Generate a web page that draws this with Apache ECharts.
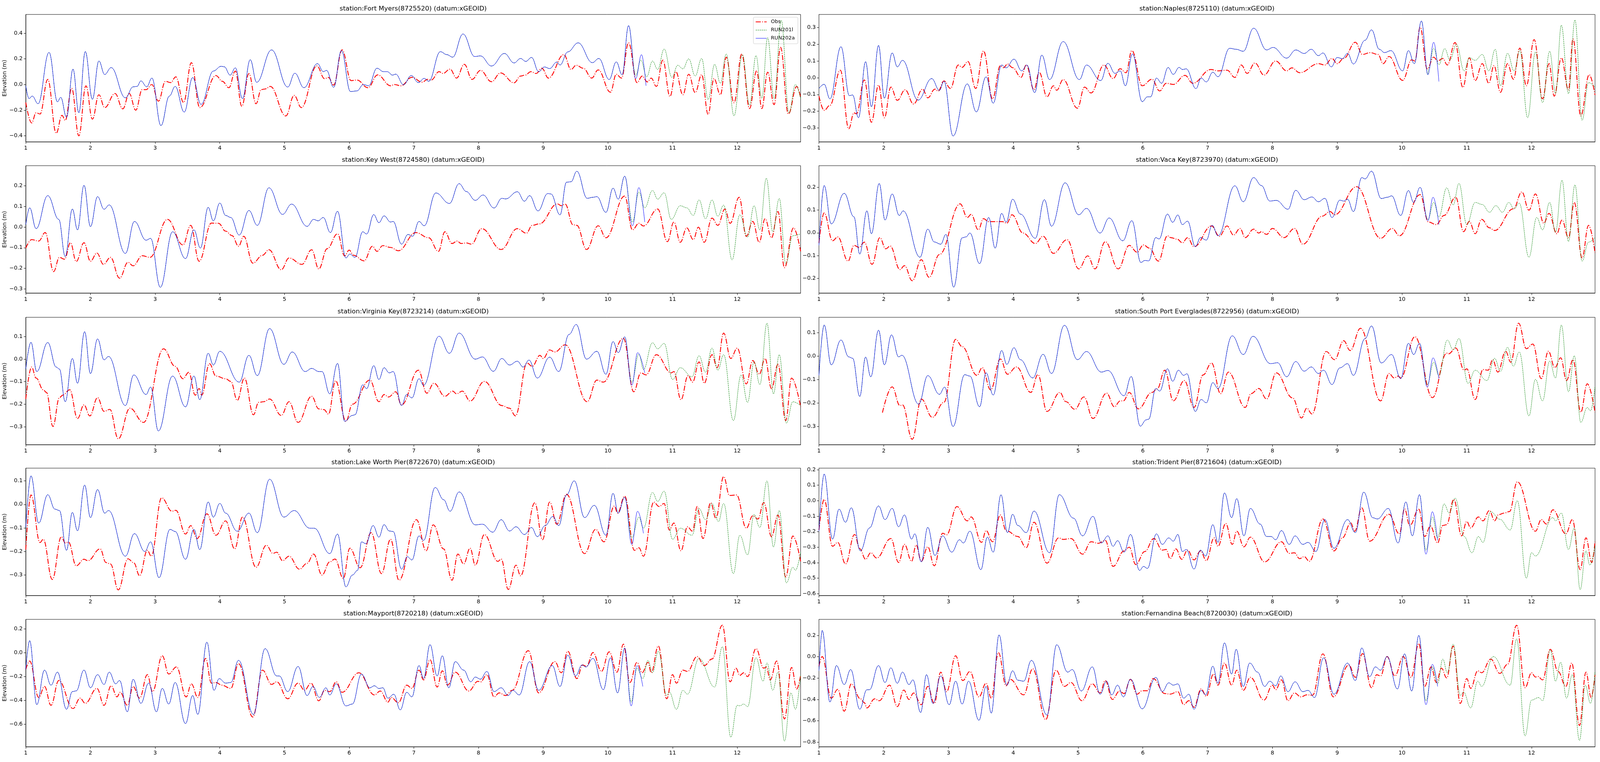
<!DOCTYPE html>
<html>
<head>
<meta charset="utf-8">
<script src="https://cdn.jsdelivr.net/npm/echarts@6/dist/echarts.min.js"></script>
<style>
  html, body { margin: 0; padding: 0; background: #fff; overflow: hidden; }
  #chart { width: 5150px; height: 1950px; }
</style>
</head>
<body>
<div id="chart"></div>
<script>

const stationTitles = [
  "station:Fort Myers(8725520) (datum:xGEOID)",
  "station:Naples(8725110) (datum:xGEOID)",
  "station:Key West(8724580) (datum:xGEOID)",
  "station:Vaca Key(8723970) (datum:xGEOID)",
  "station:Virginia Key(8723214) (datum:xGEOID)",
  "station:South Port Everglades(8722956) (datum:xGEOID)",
  "station:Lake Worth Pier(8722670) (datum:xGEOID)",
  "station:Trident Pier(8721604) (datum:xGEOID)",
  "station:Mayport(8720218) (datum:xGEOID)",
  "station:Fernandina Beach(8720030) (datum:xGEOID)"
];

const legendNames = ["Obs", "RUN201l", "RUN202a"];

const xTicks = [1, 2, 3, 4, 5, 6, 7, 8, 9, 10, 11, 12];

const yRanges = [
  [-0.447, 0.546], [-0.383, 0.378], [-0.32, 0.297], [-0.264, 0.294], [-0.38, 0.186],
  [-0.378, 0.166], [-0.387, 0.154], [-0.612, 0.21], [-0.788, 0.279], [-0.843, 0.35]
];

const yTicks = [
  [-0.4, -0.2, 0, 0.2, 0.4],
  [-0.3, -0.2, -0.1, 0, 0.1, 0.2, 0.3],
  [-0.3, -0.2, -0.1, 0, 0.1, 0.2],
  [-0.2, -0.1, 0, 0.1, 0.2],
  [-0.3, -0.2, -0.1, 0, 0.1],
  [-0.3, -0.2, -0.1, 0, 0.1],
  [-0.3, -0.2, -0.1, 0, 0.1],
  [-0.6, -0.5, -0.4, -0.3, -0.2, -0.1, 0, 0.1, 0.2],
  [-0.6, -0.4, -0.2, 0, 0.2],
  [-0.8, -0.6, -0.4, -0.2, 0, 0.2]
];

// ---- Fort Myers
const fortMyersObs = [[1.00,-0.14],[1.09,-0.30],[1.16,-0.22],[1.22,-0.23],[1.34,0.04],[1.47,-0.38],[1.56,-0.24],[1.61,-0.28],[1.71,-0.03],[1.82,-0.40],[1.93,-0.01],[2.03,-0.27],[2.13,-0.08],[2.22,-0.18],[2.38,-0.07],[2.50,-0.19],[2.60,-0.07],[2.70,-0.20],[2.80,-0.04],[2.86,-0.04],[2.95,0.00],[3.05,-0.13],[3.16,0.025],[3.24,0.015],[3.32,0.06],[3.44,-0.14],[3.56,0.17],[3.69,-0.18],[3.94,0.07],[4.04,0.025],[4.14,-0.025],[4.24,0.105],[4.34,-0.17],[4.45,0.085],[4.56,-0.15],[4.64,-0.04],[4.70,-0.035],[4.78,-0.015],[5.02,-0.245],[5.15,-0.085],[5.26,-0.18],[5.50,0.145],[5.62,0.045],[5.68,0.055],[5.76,-0.005],[5.89,0.27],[6.03,0.03],[6.12,0.035],[6.29,-0.025],[6.44,0.075],[6.64,-0.01],[6.70,0.0],[6.80,-0.01],[6.97,0.056],[7.13,0.018],[7.21,0.04],[7.27,0.035],[7.39,0.10],[7.45,0.086],[7.56,0.12],[7.66,0.05],[7.78,0.157],[7.90,0.04],[8.03,0.11],[8.20,0.022],[8.34,0.09],[8.55,0.013],[8.65,0.066],[8.72,0.073],[8.81,0.10],[8.89,0.086],[8.98,0.127],[9.08,0.05],[9.32,0.233],[9.43,0.117],[9.51,0.15],[9.62,0.127],[9.75,0.05],[9.85,0.114],[10.04,-0.06],[10.13,0.08],[10.21,0.05],[10.32,0.325],[10.45,0.015],[10.53,0.066],[10.61,0.02],[10.67,0.05],[10.75,-0.015],[10.85,0.19],[10.96,-0.093],[11.05,0.10],[11.16,-0.08],[11.25,0.08],[11.35,-0.063],[11.45,0.076],[11.55,-0.233],[11.64,0.046],[11.74,-0.08],[11.83,0.213],[11.95,-0.142],[12.07,0.238],[12.19,-0.188],[12.30,0.107],[12.38,-0.188],[12.47,0.096],[12.57,-0.157],[12.67,0.29],[12.79,-0.23],[12.92,-0.015],[12.98,-0.10]];
const fortMyersRun202a = [[1.00,-0.01],[1.05,-0.11],[1.10,-0.09],[1.19,-0.15],[1.36,0.25],[1.49,-0.135],[1.54,-0.10],[1.63,-0.255],[1.73,0.12],[1.82,-0.22],[1.92,0.257],[2.03,-0.115],[2.13,0.183],[2.22,0.078],[2.32,0.132],[2.54,-0.104],[2.66,-0.018],[2.72,-0.015],[2.78,0.028],[2.87,-0.018],[2.95,0.05],[3.09,-0.32],[3.22,-0.09],[3.31,-0.015],[3.45,-0.215],[3.58,0.054],[3.71,-0.155],[3.90,0.105],[4.02,0.142],[4.07,0.138],[4.16,0.073],[4.24,0.13],[4.35,-0.11],[4.47,0.193],[4.57,0.017],[4.80,0.27],[5.05,-0.02],[5.16,0.088],[5.30,-0.025],[5.51,0.163],[5.60,0.10],[5.65,0.11],[5.76,-0.022],[5.88,0.264],[6.02,-0.055],[6.12,-0.05],[6.22,0.0],[6.30,-0.01],[6.43,0.127],[6.53,0.10],[6.59,0.10],[6.67,0.073],[6.72,0.081],[6.84,-0.002],[6.96,0.07],[7.07,0.015],[7.16,0.048],[7.23,0.025],[7.41,0.256],[7.51,0.233],[7.60,0.213],[7.76,0.394],[7.94,0.218],[8.03,0.223],[8.20,0.144],[8.40,0.242],[8.55,0.168],[8.65,0.203],[8.73,0.18],[8.82,0.211],[8.93,0.10],[9.02,0.137],[9.10,0.124],[9.21,0.175],[9.26,0.152],[9.38,0.254],[9.54,0.325],[9.76,0.17],[9.86,0.203],[10.02,0.039],[10.13,0.176],[10.22,0.076],[10.32,0.459],[10.43,0.046],[10.52,0.233],[10.59,-0.01]];
const fortMyersRun201lTail = [[10.43,0.071],[10.51,0.19],[10.60,0.06],[10.69,0.183],[10.77,0.117],[10.87,0.276],[10.99,0.056],[11.08,0.15],[11.16,0.122],[11.25,0.20],[11.35,0.066],[11.45,0.203],[11.55,-0.117],[11.65,0.157],[11.74,0.01],[11.83,0.238],[11.95,-0.244],[12.08,0.233],[12.19,-0.162],[12.29,0.225],[12.38,-0.107],[12.47,0.365],[12.57,-0.112],[12.68,0.50],[12.80,-0.223],[12.90,0.0],[12.98,-0.11]];

// ---- Naples
const naplesObs = [[1.00,-0.11],[1.08,-0.195],[1.17,-0.165],[1.33,0.045],[1.46,-0.305],[1.54,-0.21],[1.58,-0.215],[1.70,-0.013],[1.81,-0.266],[1.92,-0.044],[2.01,-0.239],[2.11,-0.056],[2.21,-0.135],[2.33,-0.072],[2.46,-0.157],[2.60,-0.068],[2.68,-0.12],[2.79,-0.068],[2.84,-0.08],[2.93,-0.019],[3.03,-0.064],[3.15,0.076],[3.21,0.062],[3.30,0.097],[3.42,-0.064],[3.54,0.16],[3.68,-0.126],[3.80,0.072],[3.85,0.06],[3.91,0.082],[3.99,0.06],[4.12,0.002],[4.20,0.076],[4.32,-0.072],[4.40,0.033],[4.52,-0.114],[4.62,-0.048],[4.67,-0.075],[4.77,-0.011],[4.99,-0.182],[5.10,-0.056],[5.20,-0.091],[5.40,0.076],[5.54,-0.005],[5.65,0.054],[5.74,0.03],[5.83,0.162],[5.99,-0.048],[6.14,-0.009],[6.26,-0.079],[6.36,-0.033],[6.47,-0.04],[6.65,0.014],[6.77,-0.033],[7.05,0.049],[7.16,0.041],[7.30,0.045],[7.42,0.002],[7.52,0.076],[7.61,0.026],[7.73,0.088],[7.87,0.016],[8.05,0.10],[8.22,0.041],[8.30,0.059],[8.42,0.03],[8.71,0.084],[8.81,0.076],[8.92,0.115],[9.00,0.084],[9.10,0.115],[9.28,0.212],[9.39,0.139],[9.51,0.15],[9.63,0.139],[9.71,0.084],[9.80,0.127],[10.01,-0.016],[10.15,0.107],[10.20,0.10],[10.28,0.302],[10.39,0.053],[10.49,0.123],[10.55,0.10],[10.63,0.115],[10.70,0.076],[10.82,0.21],[10.94,-0.058],[11.04,0.119],[11.13,-0.017],[11.24,0.084],[11.34,-0.033],[11.42,0.072],[11.52,-0.087],[11.63,0.084],[11.72,-0.009],[11.82,0.177],[11.92,-0.048],[12.04,0.228],[12.17,-0.126],[12.27,0.084],[12.35,-0.11],[12.46,0.119],[12.57,-0.072],[12.64,0.232],[12.76,-0.227],[12.89,0.018],[12.98,-0.103]];
const naplesRun202a = [[1.00,-0.064],[1.08,-0.039],[1.17,-0.126],[1.34,0.185],[1.47,-0.107],[1.52,-0.103],[1.61,-0.239],[1.72,0.096],[1.81,-0.173],[1.92,0.193],[2.01,-0.122],[2.13,0.148],[2.21,0.065],[2.29,0.104],[2.53,-0.134],[2.74,-0.005],[2.86,-0.075],[2.93,-0.021],[3.07,-0.348],[3.29,-0.037],[3.43,-0.204],[3.58,0.005],[3.69,-0.152],[3.82,0.076],[3.89,0.059],[4.01,0.111],[4.13,0.041],[4.21,0.076],[4.33,-0.089],[4.44,0.135],[4.56,-0.011],[4.77,0.216],[5.02,-0.011],[5.13,0.076],[5.35,-0.017],[5.46,0.086],[5.57,0.026],[5.65,0.041],[5.73,-0.048],[5.84,0.142],[5.99,-0.143],[6.07,-0.114],[6.12,-0.114],[6.21,-0.002],[6.29,-0.033],[6.39,0.061],[6.47,0.02],[6.56,0.062],[6.61,0.049],[6.67,0.053],[6.82,-0.065],[6.90,-0.002],[6.98,-0.025],[7.08,0.033],[7.16,0.006],[7.34,0.176],[7.44,0.17],[7.55,0.158],[7.71,0.296],[7.91,0.166],[8.01,0.181],[8.22,0.117],[8.36,0.166],[8.49,0.145],[8.60,0.17],[8.71,0.132],[8.78,0.148],[8.91,0.065],[9.00,0.121],[9.08,0.114],[9.16,0.146],[9.25,0.082],[9.43,0.224],[9.53,0.286],[9.65,0.17],[9.73,0.15],[9.83,0.162],[10.01,0.041],[10.10,0.162],[10.19,0.084],[10.30,0.339],[10.40,0.018],[10.49,0.212],[10.57,-0.023]];
const naplesRun201lTail = [[10.41,0.053],[10.49,0.176],[10.57,0.078],[10.66,0.174],[10.74,0.107],[10.84,0.20],[10.96,0.041],[11.04,0.12],[11.13,0.104],[11.24,0.139],[11.34,0.041],[11.44,0.17],[11.52,-0.048],[11.63,0.146],[11.73,0.041],[11.82,0.162],[11.94,-0.239],[12.06,0.154],[12.17,-0.149],[12.28,0.158],[12.37,-0.095],[12.46,0.314],[12.57,-0.095],[12.67,0.345],[12.78,-0.254],[12.88,-0.029],[12.98,-0.056]];

// ---- Key West
const keyWestObs = [[1.00,-0.102],[1.09,-0.061],[1.20,-0.068],[1.30,-0.027],[1.43,-0.216],[1.52,-0.147],[1.60,-0.156],[1.69,-0.076],[1.78,-0.167],[1.90,-0.076],[2.00,-0.166],[2.10,-0.126],[2.20,-0.181],[2.31,-0.147],[2.45,-0.248],[2.58,-0.171],[2.66,-0.188],[2.80,-0.139],[2.92,-0.147],[3.19,0.037],[3.43,-0.087],[3.55,0.008],[3.68,-0.166],[3.87,0.019],[3.98,0.018],[4.09,-0.02],[4.19,-0.042],[4.29,-0.093],[4.37,-0.045],[4.51,-0.175],[4.66,-0.137],[4.76,-0.11],[4.95,-0.207],[5.07,-0.15],[5.27,-0.181],[5.42,-0.11],[5.53,-0.203],[5.66,-0.105],[5.82,-0.033],[5.93,-0.14],[6.00,-0.112],[6.07,-0.137],[6.23,-0.164],[6.36,-0.093],[6.43,-0.118],[6.52,-0.09],[6.64,-0.099],[6.76,-0.115],[7.03,-0.027],[7.23,-0.052],[7.38,-0.118],[7.48,-0.023],[7.59,-0.08],[7.67,-0.068],[7.73,-0.08],[7.81,-0.077],[7.89,-0.083],[8.05,-0.008],[8.35,-0.109],[8.60,-0.008],[8.74,-0.03],[8.83,0.008],[8.94,0.015],[9.22,0.112],[9.28,0.103],[9.34,0.111],[9.46,0.011],[9.52,0.008],[9.67,-0.109],[9.85,0.006],[9.97,-0.052],[10.26,0.15],[10.38,-0.014],[10.48,0.018],[10.55,0.005],[10.77,0.087],[10.92,-0.071],[11.02,0.024],[11.12,-0.074],[11.22,-0.004],[11.32,-0.061],[11.40,-0.001],[11.49,-0.074],[11.61,0.043],[11.70,0.008],[11.81,0.087],[11.89,0.018],[12.03,0.144],[12.14,-0.045],[12.24,0.027],[12.34,-0.074],[12.43,0.04],[12.53,-0.052],[12.63,0.075],[12.73,-0.197],[12.87,-0.004],[12.98,-0.118]];
const keyWestRun202a = [[1.00,0.011],[1.06,0.093],[1.16,-0.008],[1.34,0.152],[1.51,0.037],[1.61,-0.143],[1.72,0.087],[1.80,-0.014],[1.90,0.202],[2.00,0.002],[2.11,0.147],[2.21,0.086],[2.29,0.107],[2.54,-0.128],[2.68,0.027],[2.86,-0.064],[2.93,-0.055],[3.08,-0.292],[3.27,-0.023],[3.47,-0.153],[3.60,-0.014],[3.70,-0.102],[3.82,0.095],[3.90,0.03],[4.00,0.116],[4.09,0.056],[4.17,0.046],[4.30,-0.039],[4.45,0.08],[4.58,0.008],[4.76,0.19],[4.97,0.061],[5.11,0.111],[5.35,0.003],[5.45,0.037],[5.52,0.03],[5.60,0.046],[5.71,-0.027],[5.82,0.076],[5.95,-0.15],[6.01,-0.131],[6.09,-0.147],[6.21,-0.023],[6.27,-0.034],[6.38,0.06],[6.46,0.021],[6.54,0.054],[6.64,0.024],[6.68,0.027],[6.81,-0.083],[6.91,-0.036],[6.98,-0.045],[7.08,0.027],[7.16,0.006],[7.34,0.165],[7.55,0.114],[7.70,0.21],[7.81,0.172],[7.95,0.129],[8.07,0.155],[8.24,0.092],[8.36,0.139],[8.42,0.136],[8.60,0.171],[8.71,0.125],[8.79,0.152],[8.92,0.078],[9.07,0.162],[9.12,0.16],[9.26,0.059],[9.36,0.217],[9.43,0.219],[9.52,0.27],[9.68,0.139],[9.77,0.144],[9.83,0.147],[9.97,0.071],[10.08,0.188],[10.16,0.135],[10.26,0.246],[10.38,0.006],[10.48,0.191],[10.57,0.024]];
const keyWestRun201lTail = [[10.38,0.024],[10.48,0.169],[10.57,0.093],[10.69,0.177],[10.77,0.135],[10.87,0.166],[10.98,0.037],[11.12,0.103],[11.22,0.093],[11.32,0.056],[11.41,0.131],[11.51,0.04],[11.61,0.131],[11.70,0.052],[11.79,0.106],[11.92,-0.159],[12.04,0.059],[12.16,-0.049],[12.26,0.103],[12.35,-0.014],[12.45,0.236],[12.55,-0.023],[12.65,0.138],[12.75,-0.178],[12.86,-0.042],[12.98,-0.033]];

// ---- Vaca Key
const vacaKeyObs = [[1.00,-0.044],[1.08,0.087],[1.21,-0.035],[1.29,-0.018],[1.45,-0.124],[1.54,-0.055],[1.62,-0.064],[1.70,-0.041],[1.82,-0.138],[1.94,-0.021],[2.03,-0.07],[2.10,-0.058],[2.25,-0.161],[2.32,-0.144],[2.44,-0.21],[2.58,-0.118],[2.70,-0.195],[2.86,-0.095],[3.18,0.127],[3.29,0.067],[3.35,0.081],[3.46,0.013],[3.54,0.062],[3.62,0.049],[3.83,0.049],[3.90,0.042],[3.98,0.079],[4.15,-0.001],[4.34,-0.047],[4.46,-0.015],[4.62,-0.09],[4.83,-0.03],[5.01,-0.158],[5.15,-0.101],[5.26,-0.158],[5.42,-0.039],[5.62,-0.158],[5.79,-0.055],[5.91,-0.085],[6.01,-0.053],[6.10,-0.067],[6.24,-0.124],[6.38,-0.013],[6.43,-0.021],[6.53,-0.028],[6.61,-0.044],[6.69,-0.021],[6.79,-0.061],[7.06,0.03],[7.18,-0.015],[7.30,0.03],[7.40,-0.01],[7.50,0.019],[7.58,-0.021],[7.71,0.016],[7.79,-0.001],[7.83,0.005],[7.91,-0.007],[8.00,0.019],[8.18,-0.021],[8.34,0.019],[8.47,-0.05],[8.77,0.073],[8.89,0.093],[8.96,0.079],[9.30,0.202],[9.67,-0.024],[9.85,0.019],[9.96,-0.013],[10.28,0.167],[10.41,0.047],[10.53,0.036],[10.65,0.076],[10.83,0.156],[10.95,0.005],[11.04,0.05],[11.13,-0.004],[11.23,0.059],[11.35,0.022],[11.43,0.01],[11.72,0.105],[11.85,0.179],[11.96,0.099],[12.06,0.17],[12.19,0.042],[12.27,0.085],[12.39,-0.004],[12.47,0.056],[12.57,-0.021],[12.66,0.133],[12.78,-0.11],[12.88,0.033],[12.98,-0.087]];
const vacaKeyRun202a = [[1.00,-0.055],[1.08,0.207],[1.19,0.039],[1.39,0.173],[1.54,0.07],[1.63,-0.093],[1.74,0.096],[1.81,-0.004],[1.93,0.216],[2.02,0.056],[2.13,0.17],[2.24,0.076],[2.30,0.096],[2.56,-0.107],[2.68,0.016],[2.78,-0.04],[2.88,-0.05],[2.96,-0.007],[3.08,-0.238],[3.21,-0.022],[3.27,-0.018],[3.33,-0.001],[3.48,-0.135],[3.62,0.067],[3.72,-0.067],[3.82,0.085],[3.89,0.047],[3.99,0.147],[4.11,0.082],[4.34,-0.024],[4.48,0.145],[4.59,0.029],[4.80,0.219],[5.01,0.079],[5.13,0.107],[5.34,-0.001],[5.48,0.065],[5.69,-0.035],[5.83,0.053],[5.97,-0.13],[6.03,-0.121],[6.09,-0.123],[6.20,-0.021],[6.25,-0.027],[6.38,0.082],[6.46,0.046],[6.54,0.078],[6.61,0.036],[6.69,0.051],[6.81,-0.061],[6.89,-0.021],[6.98,-0.032],[7.07,0.033],[7.16,-0.013],[7.42,0.206],[7.55,0.136],[7.71,0.242],[7.83,0.207],[7.96,0.139],[8.06,0.142],[8.24,0.103],[8.36,0.186],[8.49,0.145],[8.61,0.157],[8.71,0.136],[8.81,0.151],[8.92,0.067],[9.04,0.143],[9.10,0.139],[9.16,0.147],[9.25,0.093],[9.38,0.242],[9.43,0.236],[9.53,0.27],[9.68,0.15],[9.78,0.156],[9.84,0.162],[9.98,0.076],[10.10,0.185],[10.18,0.133],[10.28,0.199],[10.40,0.053],[10.48,0.156],[10.57,0.036]];
const vacaKeyRun201lTail = [[10.40,0.059],[10.49,0.133],[10.57,0.07],[10.69,0.197],[10.79,0.122],[10.88,0.216],[11.00,0.036],[11.13,0.133],[11.24,0.124],[11.35,0.09],[11.45,0.119],[11.55,0.09],[11.65,0.133],[11.73,0.105],[11.81,0.13],[11.96,-0.107],[12.08,0.067],[12.17,0.013],[12.28,0.133],[12.37,0.002],[12.47,0.23],[12.57,-0.038],[12.67,0.21],[12.78,-0.124],[12.88,-0.041],[12.98,-0.021]];

// ---- Virginia Key
const virginiaKeyObs = [[1.00,-0.177],[1.09,-0.035],[1.16,-0.084],[1.27,-0.136],[1.32,-0.148],[1.42,-0.299],[1.52,-0.171],[1.57,-0.16],[1.68,-0.136],[1.80,-0.264],[1.90,-0.203],[1.99,-0.252],[2.11,-0.171],[2.21,-0.232],[2.30,-0.223],[2.43,-0.354],[2.61,-0.218],[2.82,-0.281],[3.13,0.046],[3.31,-0.032],[3.43,-0.087],[3.52,-0.058],[3.62,-0.16],[3.68,-0.13],[3.72,-0.16],[3.84,-0.02],[3.94,-0.075],[4.09,-0.087],[4.17,-0.099],[4.27,-0.183],[4.38,-0.084],[4.52,-0.247],[4.60,-0.192],[4.68,-0.189],[4.77,-0.177],[4.95,-0.25],[5.07,-0.189],[5.21,-0.281],[5.42,-0.165],[5.53,-0.221],[5.61,-0.224],[5.68,-0.244],[5.79,-0.096],[5.95,-0.276],[6.05,-0.20],[6.32,-0.093],[6.46,-0.189],[6.54,-0.157],[6.61,-0.168],[6.72,-0.145],[6.81,-0.203],[7.07,-0.049],[7.20,-0.151],[7.31,-0.107],[7.48,-0.165],[7.60,-0.142],[7.66,-0.154],[7.75,-0.142],[7.87,-0.186],[8.09,-0.099],[8.36,-0.206],[8.48,-0.218],[8.57,-0.252],[8.75,-0.017],[8.83,-0.032],[8.95,0.017],[9.00,0.003],[9.10,0.041],[9.18,0.032],[9.34,0.064],[9.68,-0.189],[9.83,-0.093],[9.93,-0.102],[10.24,0.093],[10.40,-0.145],[10.51,-0.061],[10.59,-0.07],[10.75,0.02],[10.98,-0.061],[11.02,-0.055],[11.13,-0.18],[11.24,-0.073],[11.31,-0.102],[11.41,-0.012],[11.49,-0.107],[11.61,0.02],[11.69,-0.038],[11.79,0.116],[11.90,0.003],[12.00,0.049],[12.14,-0.11],[12.24,-0.006],[12.34,-0.067],[12.43,0.003],[12.53,-0.131],[12.63,-0.023],[12.75,-0.273],[12.84,-0.084],[12.98,-0.212]];
const virginiaKeyRun202a = [[1.00,-0.044],[1.08,0.075],[1.17,-0.055],[1.34,0.074],[1.47,-0.035],[1.52,-0.044],[1.61,-0.189],[1.72,0.003],[1.80,-0.107],[1.91,0.122],[2.00,-0.064],[2.11,0.09],[2.21,-0.003],[2.28,0.012],[2.54,-0.206],[2.67,-0.07],[2.86,-0.157],[2.93,-0.124],[3.05,-0.319],[3.27,-0.075],[3.47,-0.212],[3.60,-0.075],[3.69,-0.18],[3.82,0.026],[3.90,-0.026],[4.00,0.035],[4.30,-0.102],[4.45,0.017],[4.58,-0.073],[4.77,0.136],[4.99,-0.023],[5.12,0.032],[5.32,-0.055],[5.42,-0.041],[5.53,-0.055],[5.58,-0.055],[5.70,-0.154],[5.82,-0.019],[5.93,-0.276],[6.05,-0.25],[6.09,-0.247],[6.21,-0.114],[6.27,-0.131],[6.38,-0.029],[6.46,-0.09],[6.54,-0.038],[6.62,-0.061],[6.68,-0.055],[6.81,-0.206],[6.89,-0.157],[6.97,-0.172],[7.08,-0.087],[7.15,-0.116],[7.39,0.102],[7.55,0.026],[7.70,0.116],[7.95,0.0],[8.06,0.01],[8.23,-0.054],[8.36,0.003],[8.48,-0.026],[8.60,-0.009],[8.69,-0.035],[8.78,-0.004],[8.91,-0.084],[9.10,0.009],[9.24,-0.055],[9.40,0.11],[9.51,0.154],[9.67,0.0],[9.83,0.035],[9.97,-0.067],[10.08,0.078],[10.16,0.029],[10.26,0.099],[10.37,-0.116],[10.46,0.029],[10.57,-0.061]];
const virginiaKeyRun201lTail = [[10.37,-0.102],[10.48,0.023],[10.55,-0.046],[10.69,0.073],[10.77,0.046],[10.87,0.07],[11.00,-0.09],[11.12,-0.038],[11.30,-0.078],[11.41,0.015],[11.51,-0.058],[11.61,0.049],[11.70,-0.049],[11.79,0.02],[11.94,-0.273],[12.06,-0.07],[12.16,-0.192],[12.26,-0.012],[12.35,-0.113],[12.46,0.16],[12.56,-0.154],[12.65,0.02],[12.76,-0.284],[12.86,-0.189],[12.98,-0.206]];

// ---- South Port Everglades
const southPortObs = [[1.98,-0.241],[2.13,-0.131],[2.25,-0.211],[2.29,-0.208],[2.44,-0.355],[2.58,-0.183],[2.75,-0.261],[2.93,-0.197],[3.11,0.072],[3.21,0.041],[3.44,-0.082],[3.52,-0.049],[3.65,-0.144],[3.80,-0.012],[3.91,-0.077],[4.05,-0.046],[4.27,-0.155],[4.38,-0.079],[4.52,-0.236],[4.72,-0.155],[4.81,-0.194],[4.95,-0.227],[5.09,-0.174],[5.23,-0.266],[5.44,-0.158],[5.56,-0.216],[5.65,-0.191],[5.70,-0.191],[5.79,-0.155],[5.93,-0.225],[6.14,-0.155],[6.22,-0.14],[6.34,-0.06],[6.47,-0.191],[6.64,-0.104],[6.79,-0.219],[6.93,-0.08],[7.06,-0.029],[7.20,-0.16],[7.32,-0.068],[7.58,-0.219],[7.67,-0.16],[7.79,-0.138],[7.91,-0.183],[8.06,-0.071],[8.31,-0.178],[8.45,-0.264],[8.53,-0.222],[8.61,-0.247],[8.83,0.02],[8.96,-0.015],[9.10,0.066],[9.20,0.024],[9.36,0.119],[9.67,-0.191],[9.80,-0.074],[9.88,-0.093],[9.94,-0.085],[9.98,-0.093],[10.20,0.083],[10.47,-0.177],[10.69,0.013],[10.72,0.01],[10.83,0.035],[10.96,-0.06],[11.00,-0.054],[11.13,-0.185],[11.25,-0.057],[11.33,-0.06],[11.40,-0.015],[11.48,-0.068],[11.60,0.021],[11.68,-0.026],[11.80,0.141],[11.92,0.032],[12.02,0.052],[12.15,-0.096],[12.26,0.021],[12.36,-0.049],[12.45,-0.007],[12.54,-0.104],[12.64,-0.015],[12.76,-0.239],[12.86,-0.118],[12.98,-0.239]];
const southPortRun202a = [[1.00,-0.082],[1.08,0.133],[1.19,-0.037],[1.34,0.069],[1.46,-0.003],[1.52,-0.009],[1.63,-0.172],[1.72,-0.004],[1.80,-0.088],[1.92,0.111],[2.01,-0.037],[2.12,0.091],[2.23,-0.003],[2.28,0.004],[2.54,-0.205],[2.68,-0.083],[2.86,-0.163],[2.94,-0.132],[3.07,-0.30],[3.25,-0.079],[3.33,-0.085],[3.48,-0.216],[3.58,-0.071],[3.69,-0.166],[3.82,0.024],[3.90,-0.035],[4.01,0.036],[4.11,-0.015],[4.30,-0.093],[4.46,0.008],[4.59,-0.074],[4.79,0.132],[4.99,-0.015],[5.13,0.02],[5.36,-0.068],[5.46,-0.061],[5.71,-0.169],[5.82,-0.087],[5.96,-0.299],[6.05,-0.272],[6.09,-0.269],[6.20,-0.138],[6.26,-0.149],[6.38,-0.054],[6.46,-0.107],[6.55,-0.06],[6.63,-0.082],[6.68,-0.075],[6.81,-0.236],[6.90,-0.185],[6.98,-0.199],[7.08,-0.113],[7.16,-0.138],[7.38,0.087],[7.55,0.007],[7.70,0.085],[7.97,-0.032],[8.08,-0.028],[8.22,-0.088],[8.36,-0.023],[8.49,-0.064],[8.60,-0.046],[8.71,-0.074],[8.79,-0.06],[8.92,-0.121],[9.04,-0.05],[9.16,-0.032],[9.25,-0.082],[9.43,0.075],[9.53,0.129],[9.68,-0.029],[9.84,0.007],[9.98,-0.096],[10.10,0.055],[10.18,0.007],[10.27,0.055],[10.39,-0.132],[10.48,-0.007],[10.57,-0.096]];
const southPortRun201lTail = [[10.39,-0.121],[10.49,-0.026],[10.57,-0.082],[10.70,0.069],[10.79,0.027],[10.88,0.075],[11.02,-0.116],[11.13,-0.06],[11.31,-0.104],[11.43,-0.009],[11.52,-0.065],[11.63,0.038],[11.72,-0.043],[11.81,0.018],[11.96,-0.255],[12.06,-0.099],[12.17,-0.191],[12.28,-0.021],[12.37,-0.093],[12.46,0.133],[12.57,-0.152],[12.66,0.002],[12.76,-0.283],[12.86,-0.219],[12.91,-0.233],[12.98,-0.132]];

// ---- Lake Worth Pier
const lakeWorthObs = [[1.00,-0.192],[1.08,0.04],[1.22,-0.162],[1.27,-0.148],[1.41,-0.319],[1.55,-0.137],[1.61,-0.164],[1.66,-0.16],[1.78,-0.261],[1.90,-0.233],[1.96,-0.239],[2.15,-0.189],[2.24,-0.247],[2.31,-0.253],[2.43,-0.363],[2.58,-0.231],[2.67,-0.248],[2.76,-0.303],[2.88,-0.195],[2.94,-0.22],[3.10,0.028],[3.26,-0.029],[3.32,-0.025],[3.47,-0.126],[3.55,-0.09],[3.65,-0.145],[3.80,-0.04],[3.94,-0.131],[4.09,-0.07],[4.23,-0.189],[4.35,-0.054],[4.56,-0.267],[4.72,-0.173],[4.82,-0.208],[4.88,-0.203],[4.97,-0.239],[5.07,-0.22],[5.23,-0.275],[5.35,-0.25],[5.45,-0.211],[5.58,-0.30],[5.70,-0.244],[5.78,-0.232],[5.91,-0.314],[6.01,-0.186],[6.17,-0.269],[6.34,-0.12],[6.50,-0.294],[6.64,-0.148],[6.77,-0.322],[7.04,-0.065],[7.19,-0.197],[7.30,-0.087],[7.46,-0.189],[7.59,-0.322],[7.68,-0.211],[7.77,-0.253],[7.87,-0.186],[7.95,-0.258],[8.09,-0.128],[8.30,-0.242],[8.35,-0.232],[8.46,-0.361],[8.58,-0.258],[8.65,-0.303],[8.87,0.007],[8.99,-0.15],[9.10,0.01],[9.21,-0.084],[9.36,0.043],[9.64,-0.209],[9.81,-0.106],[9.94,-0.159],[10.10,-0.007],[10.15,-0.037],[10.26,0.035],[10.41,-0.195],[10.48,-0.184],[10.55,-0.22],[10.71,0.01],[10.79,-0.009],[10.87,0.004],[10.95,-0.109],[11.02,-0.079],[11.13,-0.197],[11.23,-0.095],[11.31,-0.114],[11.38,-0.009],[11.47,-0.145],[11.59,0.007],[11.67,-0.059],[11.79,0.118],[11.88,0.038],[11.99,0.04],[12.14,-0.101],[12.24,-0.048],[12.32,-0.062],[12.41,0.008],[12.53,-0.137],[12.63,-0.045],[12.75,-0.308],[12.86,-0.134],[12.98,-0.242]];
const lakeWorthRun202a = [[1.00,-0.098],[1.08,0.121],[1.20,-0.079],[1.34,0.041],[1.45,-0.02],[1.52,-0.026],[1.63,-0.195],[1.72,-0.034],[1.80,-0.112],[1.91,0.082],[2.00,-0.056],[2.11,0.063],[2.22,-0.037],[2.28,-0.026],[2.54,-0.22],[2.68,-0.124],[2.84,-0.20],[2.93,-0.159],[3.06,-0.311],[3.23,-0.106],[3.31,-0.115],[3.47,-0.233],[3.60,-0.106],[3.69,-0.192],[3.82,0.01],[3.90,-0.054],[4.00,0.004],[4.09,-0.037],[4.27,-0.114],[4.45,-0.037],[4.58,-0.12],[4.77,0.107],[4.99,-0.054],[5.15,-0.026],[5.39,-0.101],[5.46,-0.101],[5.70,-0.209],[5.82,-0.126],[5.95,-0.35],[6.05,-0.30],[6.13,-0.28],[6.19,-0.159],[6.26,-0.167],[6.37,-0.09],[6.46,-0.139],[6.54,-0.086],[6.62,-0.113],[6.68,-0.115],[6.81,-0.275],[6.90,-0.222],[6.97,-0.236],[7.08,-0.134],[7.15,-0.153],[7.33,0.072],[7.46,0.02],[7.56,-0.029],[7.70,0.053],[7.95,-0.087],[8.06,-0.084],[8.22,-0.118],[8.35,-0.065],[8.48,-0.113],[8.58,-0.095],[8.71,-0.128],[8.82,-0.098],[8.91,-0.137],[9.03,-0.09],[9.15,-0.051],[9.24,-0.09],[9.36,0.04],[9.48,0.10],[9.64,-0.056],[9.79,-0.004],[9.97,-0.131],[10.08,0.047],[10.16,-0.037],[10.26,0.03],[10.37,-0.17],[10.46,-0.029],[10.55,-0.123]];
const lakeWorthRun201lTail = [[10.37,-0.142],[10.48,-0.054],[10.55,-0.101],[10.69,0.051],[10.77,0.013],[10.87,0.056],[11.00,-0.148],[11.12,-0.101],[11.30,-0.131],[11.41,-0.018],[11.51,-0.065],[11.61,0.004],[11.71,-0.073],[11.79,0.004],[11.94,-0.294],[12.04,-0.131],[12.16,-0.214],[12.26,-0.043],[12.35,-0.098],[12.46,0.10],[12.56,-0.181],[12.65,-0.026],[12.76,-0.333],[12.86,-0.267],[12.90,-0.28],[12.98,-0.203]];

// ---- Trident Pier
const tridentObs = [[1.00,-0.189],[1.08,0.008],[1.21,-0.294],[1.29,-0.269],[1.41,-0.408],[1.55,-0.218],[1.63,-0.31],[1.72,-0.378],[1.80,-0.336],[1.89,-0.37],[2.11,-0.244],[2.23,-0.399],[2.32,-0.282],[2.43,-0.391],[2.50,-0.286],[2.58,-0.391],[2.68,-0.298],[2.78,-0.42],[2.91,-0.21],[2.97,-0.22],[3.13,-0.038],[3.29,-0.13],[3.35,-0.105],[3.51,-0.269],[3.58,-0.193],[3.68,-0.265],[3.80,-0.092],[3.89,-0.193],[4.07,-0.231],[4.20,-0.303],[4.32,-0.139],[4.52,-0.403],[4.70,-0.24],[4.77,-0.25],[4.89,-0.244],[5.07,-0.345],[5.20,-0.265],[5.31,-0.275],[5.42,-0.256],[5.54,-0.424],[5.71,-0.324],[5.79,-0.30],[5.89,-0.412],[6.03,-0.328],[6.17,-0.244],[6.30,-0.319],[6.36,-0.315],[6.42,-0.374],[6.51,-0.311],[6.60,-0.378],[6.69,-0.319],[6.79,-0.382],[6.89,-0.324],[6.98,-0.387],[7.10,-0.24],[7.16,-0.294],[7.28,-0.147],[7.38,-0.282],[7.45,-0.197],[7.56,-0.298],[7.66,-0.235],[7.88,-0.395],[8.14,-0.265],[8.26,-0.34],[8.34,-0.336],[8.42,-0.374],[8.49,-0.361],[8.57,-0.391],[8.78,-0.118],[8.95,-0.324],[9.08,-0.24],[9.21,-0.143],[9.27,-0.197],[9.38,-0.046],[9.50,-0.261],[9.80,-0.088],[9.96,-0.214],[10.04,-0.053],[10.12,-0.16],[10.26,-0.055],[10.35,-0.231],[10.44,-0.164],[10.55,-0.273],[10.63,-0.16],[10.69,-0.155],[10.80,0.008],[10.92,-0.227],[11.00,-0.134],[11.06,-0.176],[11.18,-0.105],[11.25,-0.13],[11.35,-0.063],[11.43,-0.13],[11.49,-0.09],[11.58,-0.08],[11.66,-0.07],[11.78,0.122],[12.06,-0.197],[12.15,-0.122],[12.23,-0.151],[12.33,-0.059],[12.53,-0.214],[12.63,-0.122],[12.75,-0.445],[12.84,-0.24],[12.93,-0.399],[12.98,-0.265]];
const tridentRun202a = [[1.00,-0.197],[1.08,0.172],[1.21,-0.248],[1.31,-0.055],[1.41,-0.139],[1.50,-0.046],[1.64,-0.324],[1.78,-0.176],[1.92,-0.034],[2.02,-0.122],[2.13,-0.05],[2.23,-0.168],[2.32,-0.092],[2.43,-0.248],[2.48,-0.214],[2.58,-0.395],[2.68,-0.172],[2.79,-0.353],[2.91,-0.227],[3.05,-0.332],[3.17,-0.252],[3.23,-0.273],[3.33,-0.197],[3.50,-0.445],[3.60,-0.235],[3.69,-0.332],[3.81,0.038],[3.91,-0.206],[3.99,-0.088],[4.07,-0.16],[4.20,-0.206],[4.32,-0.067],[4.56,-0.336],[4.71,0.039],[4.93,-0.113],[5.07,-0.227],[5.23,-0.101],[5.36,-0.273],[5.46,-0.227],[5.54,-0.294],[5.61,-0.258],[5.71,-0.332],[5.81,-0.218],[5.95,-0.45],[6.01,-0.424],[6.07,-0.437],[6.21,-0.214],[6.30,-0.282],[6.40,-0.24],[6.47,-0.261],[6.54,-0.218],[6.61,-0.328],[6.67,-0.315],[6.79,-0.441],[6.89,-0.319],[6.97,-0.357],[7.08,-0.155],[7.16,-0.269],[7.26,0.05],[7.37,-0.109],[7.45,0.013],[7.56,-0.227],[7.66,-0.05],[7.81,-0.151],[7.91,-0.231],[7.98,-0.231],[8.05,-0.252],[8.14,-0.193],[8.26,-0.282],[8.35,-0.227],[8.47,-0.282],[8.55,-0.269],[8.67,-0.328],[8.81,-0.122],[8.95,-0.307],[9.16,-0.122],[9.28,-0.206],[9.41,0.055],[9.55,-0.11],[9.62,-0.118],[9.79,-0.05],[9.94,-0.273],[10.06,-0.008],[10.16,-0.227],[10.27,0.039],[10.37,-0.345],[10.47,-0.071],[10.55,-0.256]];
const tridentRun201lTail = [[10.37,-0.319],[10.47,-0.105],[10.55,-0.24],[10.65,-0.021],[10.73,-0.08],[10.82,0.017],[10.96,-0.231],[11.08,-0.336],[11.18,-0.231],[11.25,-0.269],[11.37,-0.071],[11.51,-0.12],[11.67,-0.189],[11.78,0.0],[11.92,-0.50],[12.00,-0.336],[12.06,-0.357],[12.33,-0.109],[12.37,-0.13],[12.46,-0.08],[12.57,-0.315],[12.66,-0.176],[12.75,-0.574],[12.84,-0.324],[12.90,-0.416],[12.98,-0.29]];

// ---- Mayport
const mayportObs = [[1.00,-0.141],[1.06,-0.07],[1.20,-0.375],[1.29,-0.283],[1.39,-0.441],[1.51,-0.233],[1.73,-0.468],[1.84,-0.381],[1.92,-0.424],[2.10,-0.299],[2.21,-0.441],[2.32,-0.277],[2.41,-0.37],[2.46,-0.332],[2.57,-0.441],[2.66,-0.283],[2.76,-0.381],[2.88,-0.184],[2.96,-0.326],[3.11,-0.026],[3.21,-0.179],[3.33,-0.119],[3.48,-0.37],[3.56,-0.261],[3.66,-0.375],[3.78,-0.048],[3.87,-0.255],[3.94,-0.25],[4.03,-0.272],[4.17,-0.299],[4.29,-0.092],[4.51,-0.539],[4.66,-0.146],[4.80,-0.266],[4.88,-0.244],[5.05,-0.386],[5.21,-0.255],[5.31,-0.315],[5.41,-0.255],[5.53,-0.403],[5.62,-0.315],[5.70,-0.326],[5.80,-0.244],[5.89,-0.332],[6.15,-0.168],[6.39,-0.354],[6.48,-0.321],[6.60,-0.414],[6.65,-0.375],[6.76,-0.419],[6.89,-0.272],[6.97,-0.299],[7.08,-0.146],[7.15,-0.228],[7.25,-0.059],[7.36,-0.288],[7.44,-0.152],[7.52,-0.272],[7.64,-0.163],[7.85,-0.321],[7.99,-0.24],[8.03,-0.245],[8.13,-0.184],[8.24,-0.37],[8.32,-0.337],[8.42,-0.359],[8.52,-0.315],[8.77,0.017],[8.93,-0.337],[9.18,-0.075],[9.28,-0.168],[9.38,0.012],[9.52,-0.217],[9.61,-0.103],[9.67,-0.114],[9.77,0.001],[9.90,-0.157],[10.02,0.007],[10.14,-0.163],[10.24,0.072],[10.34,-0.25],[10.45,-0.081],[10.53,-0.168],[10.62,-0.081],[10.67,-0.168],[10.78,0.056],[10.91,-0.386],[11.00,-0.184],[11.06,-0.255],[11.16,-0.146],[11.23,-0.157],[11.38,-0.032],[11.49,-0.108],[11.61,-0.053],[11.77,0.23],[11.89,-0.244],[11.98,-0.13],[12.04,-0.19],[12.10,-0.168],[12.16,-0.2],[12.29,0.034],[12.41,-0.13],[12.45,-0.12],[12.51,-0.228],[12.61,-0.07],[12.73,-0.555],[12.84,-0.124],[12.92,-0.304],[12.98,-0.19]];
const mayportRun202a = [[1.00,-0.141],[1.06,0.101],[1.17,-0.435],[1.29,-0.146],[1.39,-0.272],[1.49,-0.163],[1.63,-0.474],[1.72,-0.326],[1.78,-0.32],[1.90,-0.146],[2.00,-0.294],[2.11,-0.184],[2.21,-0.266],[2.29,-0.163],[2.39,-0.261],[2.45,-0.233],[2.57,-0.495],[2.66,-0.223],[2.78,-0.424],[2.90,-0.255],[3.02,-0.495],[3.11,-0.299],[3.21,-0.43],[3.31,-0.25],[3.47,-0.594],[3.58,-0.359],[3.66,-0.517],[3.80,0.088],[3.91,-0.315],[3.99,-0.217],[4.09,-0.255],[4.17,-0.25],[4.29,-0.064],[4.52,-0.517],[4.70,0.034],[4.88,-0.195],[4.92,-0.195],[5.05,-0.326],[5.21,-0.116],[5.35,-0.359],[5.44,-0.283],[5.54,-0.375],[5.64,-0.294],[5.70,-0.354],[5.80,-0.261],[5.95,-0.446],[6.05,-0.43],[6.19,-0.179],[6.32,-0.294],[6.39,-0.277],[6.46,-0.30],[6.52,-0.294],[6.60,-0.381],[6.69,-0.348],[6.79,-0.479],[6.89,-0.332],[6.97,-0.37],[7.08,-0.108],[7.15,-0.217],[7.25,0.067],[7.36,-0.195],[7.44,-0.026],[7.54,-0.294],[7.64,-0.075],[7.77,-0.146],[7.88,-0.244],[7.95,-0.204],[8.03,-0.222],[8.13,-0.157],[8.24,-0.326],[8.35,-0.294],[8.46,-0.359],[8.53,-0.315],[8.63,-0.354],[8.79,-0.075],[8.93,-0.315],[9.14,-0.108],[9.26,-0.283],[9.38,-0.021],[9.50,-0.195],[9.60,-0.103],[9.66,-0.12],[9.77,-0.048],[9.93,-0.31],[10.04,-0.043],[10.15,-0.337],[10.26,0.039],[10.36,-0.446],[10.45,-0.108],[10.54,-0.283]];
const mayportRun201lTail = [[10.36,-0.414],[10.45,-0.13],[10.54,-0.217],[10.62,-0.064],[10.69,-0.168],[10.78,0.012],[10.91,-0.359],[10.95,-0.33],[11.06,-0.474],[11.16,-0.315],[11.23,-0.348],[11.41,-0.048],[11.65,-0.288],[11.77,0.05],[11.90,-0.708],[12.00,-0.441],[12.04,-0.445],[12.10,-0.43],[12.16,-0.452],[12.29,-0.043],[12.40,-0.239],[12.46,-0.086],[12.55,-0.315],[12.63,-0.163],[12.73,-0.741],[12.83,-0.337],[12.90,-0.474],[12.98,-0.184]];

// ---- Fernandina Beach
const fernandinaObs = [[1.00,-0.089],[1.05,0.002],[1.19,-0.388],[1.29,-0.305],[1.39,-0.51],[1.50,-0.254],[1.64,-0.394],[1.70,-0.43],[1.74,-0.479],[1.86,-0.394],[1.93,-0.412],[2.09,-0.266],[2.21,-0.467],[2.31,-0.312],[2.39,-0.40],[2.46,-0.339],[2.58,-0.449],[2.68,-0.278],[2.78,-0.437],[2.88,-0.144],[2.97,-0.327],[3.11,0.009],[3.22,-0.223],[3.33,-0.138],[3.47,-0.376],[3.58,-0.248],[3.66,-0.388],[3.77,0.039],[3.89,-0.272],[3.95,-0.211],[4.16,-0.357],[4.30,-0.113],[4.50,-0.589],[4.66,-0.126],[4.79,-0.278],[4.89,-0.241],[5.06,-0.412],[5.22,-0.254],[5.34,-0.339],[5.42,-0.223],[5.53,-0.40],[5.64,-0.321],[5.71,-0.345],[5.81,-0.211],[5.91,-0.351],[5.99,-0.318],[6.07,-0.318],[6.16,-0.205],[6.34,-0.345],[6.42,-0.35],[6.54,-0.327],[6.63,-0.449],[6.71,-0.412],[6.79,-0.473],[6.90,-0.302],[6.98,-0.37],[7.09,-0.162],[7.16,-0.266],[7.26,-0.059],[7.37,-0.266],[7.45,-0.126],[7.55,-0.315],[7.66,-0.193],[7.87,-0.406],[8.00,-0.266],[8.05,-0.309],[8.14,-0.217],[8.24,-0.412],[8.34,-0.339],[8.44,-0.376],[8.53,-0.357],[8.62,-0.36],[8.78,0.027],[8.94,-0.376],[9.18,-0.077],[9.28,-0.193],[9.39,0.029],[9.53,-0.29],[9.61,-0.168],[9.67,-0.18],[9.77,0.002],[9.89,-0.18],[10.02,0.002],[10.14,-0.193],[10.26,0.124],[10.35,-0.278],[10.45,-0.095],[10.53,-0.241],[10.61,-0.107],[10.69,-0.199],[10.79,0.10],[10.90,-0.437],[11.00,-0.205],[11.06,-0.296],[11.17,-0.132],[11.23,-0.15],[11.37,-0.022],[11.51,-0.156],[11.63,-0.071],[11.77,0.295],[11.90,-0.29],[12.00,-0.15],[12.06,-0.19],[12.10,-0.185],[12.17,-0.217],[12.29,0.07],[12.41,-0.138],[12.53,-0.278],[12.62,-0.059],[12.74,-0.644],[12.84,-0.144],[12.92,-0.382],[12.98,-0.168]];
const fernandinaRun202a = [[1.00,-0.132],[1.05,0.246],[1.17,-0.424],[1.27,-0.083],[1.39,-0.26],[1.49,-0.12],[1.63,-0.491],[1.74,-0.309],[1.78,-0.309],[1.92,-0.083],[2.02,-0.241],[2.11,-0.104],[2.21,-0.248],[2.29,-0.144],[2.39,-0.26],[2.45,-0.217],[2.57,-0.522],[2.66,-0.168],[2.76,-0.437],[2.88,-0.18],[3.01,-0.449],[3.11,-0.229],[3.21,-0.443],[3.31,-0.229],[3.47,-0.595],[3.58,-0.278],[3.66,-0.528],[3.78,0.204],[3.90,-0.266],[3.99,-0.132],[4.07,-0.22],[4.16,-0.229],[4.28,-0.034],[4.52,-0.546],[4.67,0.112],[4.84,-0.144],[4.91,-0.12],[5.05,-0.321],[5.22,-0.095],[5.34,-0.351],[5.44,-0.229],[5.52,-0.357],[5.61,-0.266],[5.70,-0.376],[5.81,-0.211],[5.99,-0.488],[6.20,-0.193],[6.30,-0.327],[6.40,-0.244],[6.47,-0.266],[6.54,-0.254],[6.63,-0.388],[6.71,-0.351],[6.79,-0.491],[6.90,-0.315],[6.97,-0.357],[7.08,-0.089],[7.16,-0.248],[7.26,0.13],[7.37,-0.162],[7.44,0.07],[7.55,-0.278],[7.65,-0.059],[7.77,-0.144],[7.88,-0.278],[7.96,-0.229],[8.05,-0.272],[8.13,-0.18],[8.24,-0.327],[8.35,-0.235],[8.47,-0.327],[8.55,-0.315],[8.65,-0.382],[8.79,-0.01],[8.95,-0.351],[9.16,-0.059],[9.28,-0.223],[9.38,0.082],[9.50,-0.187],[9.59,-0.095],[9.67,-0.126],[9.77,0.002],[9.93,-0.302],[10.04,0.027],[10.15,-0.321],[10.26,0.20],[10.37,-0.449],[10.47,-0.071],[10.55,-0.278]];
const fernandinaRun201lTail = [[10.37,-0.412],[10.47,-0.095],[10.55,-0.254],[10.63,-0.022],[10.70,-0.15],[10.79,0.118],[10.90,-0.363],[10.95,-0.33],[11.06,-0.479],[11.17,-0.229],[11.23,-0.278],[11.41,0.002],[11.67,-0.266],[11.77,0.167],[11.90,-0.741],[12.00,-0.406],[12.11,-0.382],[12.17,-0.412],[12.29,0.063],[12.37,-0.229],[12.45,-0.052],[12.54,-0.388],[12.63,-0.168],[12.74,-0.784],[12.83,-0.266],[12.91,-0.437],[12.98,-0.144]];

const obsList = [fortMyersObs, naplesObs, keyWestObs, vacaKeyObs, virginiaKeyObs, southPortObs, lakeWorthObs, tridentObs, mayportObs, fernandinaObs];
const run202aList = [fortMyersRun202a, naplesRun202a, keyWestRun202a, vacaKeyRun202a, virginiaKeyRun202a, southPortRun202a, lakeWorthRun202a, tridentRun202a, mayportRun202a, fernandinaRun202a];
const run201lTailList = [fortMyersRun201lTail, naplesRun201lTail, keyWestRun201lTail, vacaKeyRun201lTail, virginiaKeyRun201lTail, southPortRun201lTail, lakeWorthRun201lTail, tridentRun201lTail, mayportRun201lTail, fernandinaRun201lTail];

// the browser window may be narrower than the 5150px figure: squeeze horizontal positions to fit
const W = Math.min(window.innerWidth || 5150, 5150), H = 1950;
const sx = W / 5150;
const el = document.getElementById("chart");
el.style.width = W + "px";
el.style.height = H + "px";

// layout (px, in figure coordinates; x scaled by sx)
const colX = [[Math.max(79 * sx, 66), 2577 * sx], [2636 * sx, 5134 * sx]];
const rowTop = [37, 424, 812, 1198, 1585], plotH = 326;
const FONT = "DejaVu Sans";
const RED = "#ff0000", GREEN = "#008000", BLUE = "#0000ff";
const obsDash = [13, 3.5, 2, 3.5], runDash = [3.5, 1.6];

const fmtY = v => (Math.abs(v) < 1e-9 ? "0.0" : v.toFixed(1).replace("-", "\u2212"));

const grids = [], xAxes = [], yAxes = [], series = [], graphics = [];

stationTitles.forEach((title, i) => {
  const col = i % 2, row = Math.floor(i / 2);
  const left = colX[col][0], width = colX[col][1] - colX[col][0], top = rowTop[row];
  grids.push({ left, top, width, height: plotH, show: true, borderColor: "#000", borderWidth: 1, backgroundColor: "transparent" });

  xAxes.push({
    type: "value", gridIndex: i, min: 1, max: 12.98,
    axisLine: { show: true, onZero: false, lineStyle: { color: "#000", width: 1 } },
    axisTick: { show: true, length: 5, lineStyle: { color: "#000", width: 1 }, customValues: xTicks },
    axisLabel: { color: "#000", fontFamily: FONT, fontSize: 14, margin: 9, customValues: xTicks },
    splitLine: { show: false }
  });

  yAxes.push({
    type: "value", gridIndex: i, min: yRanges[i][0], max: yRanges[i][1],
    name: col === 0 ? "Elevation (m)" : "", nameLocation: "middle", nameGap: 47, nameRotate: 90,
    nameTextStyle: { color: "#000", fontFamily: FONT, fontSize: 14 },
    axisLine: { show: true, onZero: false, lineStyle: { color: "#000", width: 1 } },
    axisTick: { show: true, length: 5, lineStyle: { color: "#000", width: 1 }, customValues: yTicks[i] },
    axisLabel: { color: "#000", fontFamily: FONT, fontSize: 14, margin: 8, customValues: yTicks[i], formatter: fmtY },
    splitLine: { show: false }
  });

  graphics.push({
    type: "text", x: left + width / 2, y: top - 14, z: 100,
    style: { text: title, fontFamily: FONT, fontSize: 16.5, fill: "#000", align: "center", verticalAlign: "middle" }
  });

  const tail = run201lTailList[i];
  const run201l = run202aList[i].filter(p => p[0] < tail[0][0]).concat(tail);
  const common = { type: "line", xAxisIndex: i, yAxisIndex: i, symbol: "none", showSymbol: false,
                   smooth: 0.4, smoothMonotone: "x", silent: true, animation: false };
  series.push(Object.assign({}, common, { name: legendNames[0], data: obsList[i], z: 2,
    itemStyle: { color: RED }, lineStyle: { color: RED, width: 2.2, type: obsDash } }));
  series.push(Object.assign({}, common, { name: legendNames[1], data: run201l, z: 3,
    itemStyle: { color: GREEN }, lineStyle: { color: GREEN, width: 1.0, type: runDash } }));
  series.push(Object.assign({}, common, { name: legendNames[2], data: run202aList[i], z: 4,
    itemStyle: { color: BLUE }, lineStyle: { color: BLUE, width: 1.0 } }));
});

// legend box (matplotlib style) in the Fort Myers panel, upper right
const legRight = colX[0][1] - 7, legW = 114, legTop = 44, legH = 68;
const legLeft = legRight - legW;
const legendChildren = [{
  type: "rect", shape: { x: legLeft, y: legTop, width: legW, height: legH, r: 3 },
  style: { fill: "rgba(255,255,255,0.8)", stroke: "#cccccc", lineWidth: 1 }
}];
const legStyles = [
  { stroke: RED, lineWidth: 2.2, lineDash: obsDash },
  { stroke: GREEN, lineWidth: 1.0, lineDash: runDash },
  { stroke: BLUE, lineWidth: 1.0 }
];
legendNames.forEach((name, k) => {
  const cy = legTop + 12 + k * 21;
  legendChildren.push({ type: "line", shape: { x1: legLeft + 6, y1: cy, x2: legLeft + 34, y2: cy }, style: legStyles[k] });
  legendChildren.push({ type: "text", x: legLeft + 45, y: cy,
    style: { text: name, fontFamily: FONT, fontSize: 13, fill: "#000", align: "left", verticalAlign: "middle" } });
});
graphics.push({ type: "group", z: 200, silent: true, children: legendChildren });

const chart = echarts.init(el, null, { renderer: "canvas" });
chart.setOption({
  animation: false,
  backgroundColor: "#fff",
  textStyle: { fontFamily: FONT },
  grid: grids,
  xAxis: xAxes,
  yAxis: yAxes,
  graphic: graphics,
  series
});
</script>
</body>
</html>
